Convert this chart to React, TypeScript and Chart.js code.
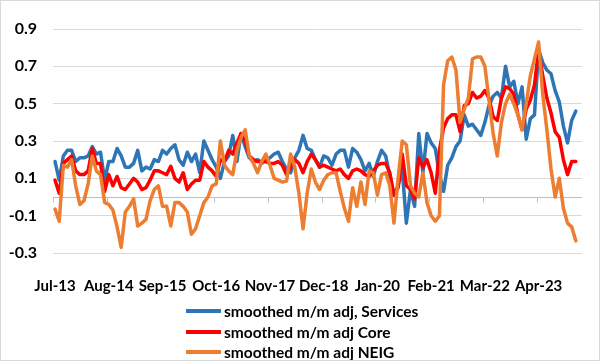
import React, { useEffect, useRef } from 'react';
import { Chart, registerables } from 'chart.js';

Chart.register(...registerables);

// ---- categories (monthly, Jul-13 .. Feb-24) ----
const MONTHS = ['Jan', 'Feb', 'Mar', 'Apr', 'May', 'Jun', 'Jul', 'Aug', 'Sep', 'Oct', 'Nov', 'Dec'];
const START_YEAR = 2013;
const START_MONTH = 6; // Jul
const N_CATEGORIES = 128;
const LABEL_EVERY = 13;

// ---- y axis ----
const Y_MIN = -0.3;
const Y_MAX = 0.9;
const Y_STEP = 0.2;

// ---- series ----
const SERIES_NAMES = ['smoothed m/m adj, Services', 'smoothed m/m adj Core', 'smoothed m/m adj NEIG'];
const SERIES_COLORS = ['#2E75B6', '#FF0000', '#ED7D31'];

const services = [
  0.19, 0.09, 0.22, 0.25, 0.25, 0.19, 0.21, 0.21, 0.22, 0.27,
  0.23, 0.24, 0.09, 0.19, 0.19, 0.26, 0.22, 0.16, 0.16, 0.18,
  0.25, 0.14, 0.16, 0.15, 0.20, 0.19, 0.25, 0.23, 0.26, 0.28,
  0.20, 0.17, 0.24, 0.19, 0.23, 0.13, 0.30, 0.25, 0.20, 0.16,
  0.10, 0.19, 0.22, 0.33, 0.19, 0.34, 0.27, 0.21, 0.19, 0.20,
  0.18, 0.20, 0.21, 0.23, 0.24, 0.19, 0.15, 0.13, 0.21, 0.25,
  0.33, 0.26, 0.25, 0.20, 0.16, 0.22, 0.21, 0.17, 0.23, 0.25,
  0.25, 0.16, 0.26, 0.24, 0.20, 0.14, 0.18, 0.11, 0.19, 0.25,
  0.22, 0.11, 0.01, 0.06, 0.15, -0.14, 0.04, -0.05, 0.34, 0.13,
  0.34, 0.29, 0.26, 0.12, 0.03, 0.17, 0.21, 0.27, 0.30, 0.44,
  0.38, 0.39, 0.36, 0.33, 0.40, 0.49, 0.54, 0.56, 0.53, 0.70,
  0.59, 0.62, 0.50, 0.59, 0.31, 0.42, 0.44, 0.79, 0.72, 0.68,
  0.66, 0.57, 0.51, 0.38, 0.29, 0.41, 0.46,
];

const core = [
  0.09, 0.02, 0.18, 0.20, 0.22, 0.14, 0.12, 0.12, 0.14, 0.26,
  0.18, 0.18, 0.03, 0.12, 0.06, 0.11, 0.05, 0.04, 0.07, 0.10,
  0.08, 0.04, 0.05, 0.09, 0.14, 0.14, 0.13, 0.12, 0.165, 0.10,
  0.08, 0.13, 0.04, 0.07, 0.09, 0.09, 0.19, 0.16, 0.14, 0.11,
  0.20, 0.19, 0.25, 0.23, 0.29, 0.34, 0.30, 0.22, 0.20, 0.19,
  0.19, 0.19, 0.18, 0.18, 0.19, 0.17, 0.12, 0.16, 0.20, 0.18,
  0.13, 0.19, 0.23, 0.20, 0.16, 0.17, 0.16, 0.15, 0.14, 0.15,
  0.12, 0.10, 0.14, 0.15, 0.14, 0.12, 0.11, 0.14, 0.17, 0.18,
  0.18, 0.13, 0.01, 0.05, 0.23, 0.06, 0.04, -0.01, 0.21, 0.16,
  0.20, 0.13, 0.02, 0.25, 0.37, 0.42, 0.44, 0.44, 0.35, 0.49,
  0.50, 0.56, 0.53, 0.54, 0.57, 0.53, 0.43, 0.41, 0.53, 0.59,
  0.58, 0.55, 0.44, 0.36, 0.47, 0.52, 0.60, 0.79, 0.65, 0.53,
  0.45, 0.35, 0.32, 0.20, 0.12, 0.19, 0.19,
];

const neig = [
  -0.065, -0.13, 0.17, 0.16, 0.20, 0.06, -0.04, -0.02, 0.07, 0.22,
  0.14, 0.12, -0.03, -0.04, -0.07, -0.16, -0.27, -0.08, -0.05, -0.01,
  -0.155, -0.14, -0.12, -0.02, 0.04, 0.06, -0.05, -0.05, -0.155, -0.03,
  -0.03, -0.05, -0.08, -0.20, -0.17, -0.10, -0.03, 0.00, 0.06, 0.07,
  0.30, 0.17, 0.14, 0.12, 0.25, 0.32, 0.36, 0.22, 0.18, 0.13,
  0.19, 0.23, 0.17, 0.10, 0.09, 0.08, 0.085, 0.23, 0.16, 0.02,
  -0.17, 0.02, 0.15, 0.08, 0.04, 0.09, 0.12, 0.13, 0.13, 0.03,
  -0.06, -0.13, 0.05, -0.05, 0.08, -0.04, 0.14, 0.13, 0.01, 0.12,
  0.13, 0.06, -0.14, 0.10, 0.30, 0.28, 0.06, 0.02, 0.00, 0.13,
  -0.03, -0.10, -0.13, -0.10, 0.60, 0.73, 0.75, 0.68, 0.40, 0.47,
  0.53, 0.74, 0.75, 0.75, 0.70, 0.52, 0.34, 0.22, 0.40, 0.50,
  0.55, 0.50, 0.44, 0.36, 0.50, 0.65, 0.74, 0.83, 0.55, 0.36,
  0.15, 0.00, 0.10, -0.06, -0.14, -0.16, -0.235,
];

const categories: string[] = [];
for (let k = 0; k < N_CATEGORIES; k++) {
  const m = (START_MONTH + k) % 12;
  const yr = (START_YEAR + Math.floor((START_MONTH + k) / 12)) % 100;
  categories.push(`${MONTHS[m]}-${String(yr).padStart(2, '0')}`);
}

const FONT_FAMILY = 'Lato, "Liberation Sans", Arial, sans-serif';

const zeroAxisPlugin = {
  id: 'zeroAxis',
  beforeDatasetsDraw(chart: any) {
    const { ctx, chartArea, scales } = chart;
    const x = scales.x;
    const y = scales.y;
    const y0 = Math.round(y.getPixelForValue(0)) + 0.5;
    ctx.save();
    ctx.strokeStyle = '#BFBFBF';
    ctx.lineWidth = 1;
    ctx.beginPath();
    ctx.moveTo(chartArea.left, y0);
    ctx.lineTo(chartArea.right, y0);
    for (let i = 0; i < categories.length; i += LABEL_EVERY) {
      const px = i === 0 ? chartArea.left : (x.getPixelForValue(i - 1) + x.getPixelForValue(i)) / 2;
      const xx = Math.round(px) + 0.5;
      ctx.moveTo(xx, y0);
      ctx.lineTo(xx, y0 + 5);
    }
    ctx.stroke();
    ctx.restore();
  },
};

export default function App() {
  const canvasRef = useRef<HTMLCanvasElement | null>(null);

  useEffect(() => {
    if (!canvasRef.current) return;
    const seriesData = [services, core, neig];
    const chart = new Chart(canvasRef.current, {
      type: 'line',
      data: {
        labels: categories,
        datasets: seriesData.map((d, idx) => ({
          label: SERIES_NAMES[idx],
          data: d,
          borderColor: SERIES_COLORS[idx],
          backgroundColor: SERIES_COLORS[idx],
          borderWidth: 3.5,
          pointRadius: 0,
          tension: 0,
          fill: false,
          borderJoinStyle: 'round' as const,
          borderCapStyle: 'round' as const,
          order: 3 - idx,
        })),
      },
      options: {
        responsive: false,
        animation: false,
        events: [],
        layout: { padding: { top: 29, right: 18, left: 0, bottom: 0 } },
        plugins: {
          legend: { display: false },
          tooltip: { enabled: false },
        },
        scales: {
          x: {
            type: 'category',
            offset: true,
            grid: { display: false },
            border: { display: false },
            afterFit: (scale: any) => {
              scale.height = 108;
            },
            ticks: {
              autoSkip: false,
              maxRotation: 0,
              minRotation: 0,
              padding: 16,
              color: '#000000',
              font: { family: FONT_FAMILY, size: 15, weight: 'bold' },
              callback: function (this: any, value: any, index: number) {
                return index % LABEL_EVERY === 0 ? this.getLabelForValue(value) : '';
              },
            },
          },
          y: {
            min: Y_MIN,
            max: Y_MAX,
            border: { display: false },
            grid: { color: '#D9D9D9', lineWidth: 1, drawTicks: false },
            afterFit: (scale: any) => {
              scale.width = 53;
            },
            ticks: {
              stepSize: Y_STEP,
              padding: 16,
              color: '#000000',
              font: { family: FONT_FAMILY, size: 16, weight: 'bold' },
              callback: (v: any) => Number(v).toFixed(1),
            },
          },
        },
      },
      plugins: [zeroAxisPlugin],
    });
    return () => chart.destroy();
  }, []);

  return (
    <div style={{ position: 'fixed', left: 0, top: 0, width: 600, height: 361, background: '#FFFFFF' }}>
      <canvas ref={canvasRef} width={600} height={361} style={{ display: 'block', width: 600, height: 361 }} />
      <div
        style={{
          position: 'absolute',
          left: 186,
          top: 301,
          fontFamily: FONT_FAMILY,
          fontWeight: 'bold',
          fontSize: 15.5,
          color: '#000000',
        }}
      >
        {SERIES_NAMES.map((name, idx) => (
          <div key={name} style={{ display: 'flex', alignItems: 'center', height: 20.5, whiteSpace: 'nowrap' }}>
            <span
              style={{
                display: 'inline-block',
                width: 35,
                height: 4,
                background: SERIES_COLORS[idx],
                marginRight: 3,
              }}
            />
            <span style={{ lineHeight: '20px' }}>{name}</span>
          </div>
        ))}
      </div>
      <div
        style={{
          position: 'absolute',
          left: 0,
          top: 0,
          width: 600,
          height: 361,
          boxSizing: 'border-box',
          border: '1px solid #D9D9D9',
          pointerEvents: 'none',
        }}
      />
    </div>
  );
}
